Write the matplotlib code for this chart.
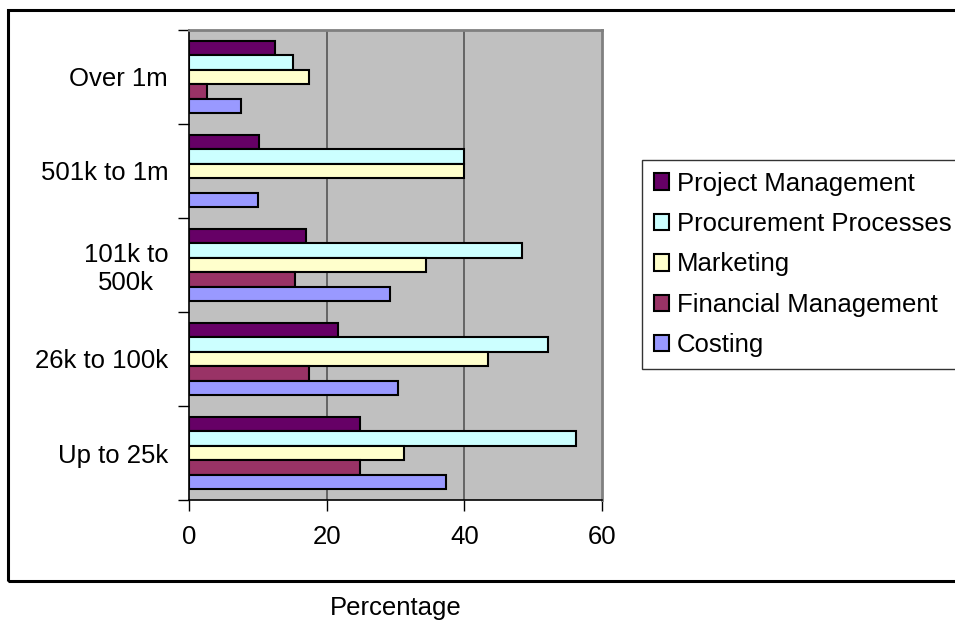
import matplotlib.pyplot as plt
from matplotlib.patches import Rectangle
import numpy as np

plt.rcParams['font.family'] = ['Liberation Sans', 'DejaVu Sans']

# categories, bottom to top
categories = ['Up to 25k', '26k to 100k', '101k to\n500k', '501k to 1m', 'Over 1m']

# series, listed top-to-bottom inside each group
series_names = ['Project Management', 'Procurement Processes', 'Marketing',
                'Financial Management', 'Costing']
project_mgmt = [24.9, 21.7, 17.0, 10.1, 12.5]
procurement = [56.2, 52.2, 48.4, 40.0, 15.1]
marketing = [31.2, 43.5, 34.4, 40.0, 17.4]
financial_mgmt = [24.9, 17.4, 15.4, 0.0, 2.6]
costing = [37.3, 30.4, 29.2, 10.0, 7.5]

colors = ['#660066', '#CCFFFF', '#FFFFCC', '#993366', '#9999FF']
x_ticks = [0, 20, 40, 60]
FS = 18.5

W, H = 955, 620
fig = plt.figure(figsize=(W / 100, H / 100), dpi=100)
ax = fig.add_axes([189 / W, 1 - 500 / H, (602 - 189) / W, (500 - 30) / H])
ax.set_facecolor('#C0C0C0')

y = np.arange(len(categories))
h = 0.153
all_series = [project_mgmt, procurement, marketing, financial_mgmt, costing]
for i, (name, vals, c) in enumerate(zip(series_names, all_series, colors)):
    offset = (2 - i) * h
    ax.barh(y + offset, vals, height=h, color=c, edgecolor='black',
            linewidth=1.5, label=name, zorder=3)

ax.set_xlim(0, 60)
ax.set_ylim(-0.5, len(categories) - 0.5)
ax.set_xticks(x_ticks)
ax.tick_params(axis='x', length=8, width=1, labelsize=FS, pad=10, direction='out')
for xv in x_ticks[1:-1]:
    ax.axvline(xv, color='#555555', linewidth=1.2, zorder=1)

# category boundaries get the ticks, labels sit between them
ax.set_yticks(np.arange(-0.5, len(categories), 1.0))
ax.set_yticklabels([])
ax.tick_params(axis='y', which='major', length=8, width=1, direction='out')
ax.set_yticks(y, minor=True)
ax.set_yticklabels(categories, minor=True, fontsize=FS, multialignment='center')
ax.tick_params(axis='y', which='minor', length=0, pad=15)

ax.spines['left'].set_color('black')
ax.spines['bottom'].set_color('black')
ax.spines['left'].set_linewidth(1.2)
ax.spines['bottom'].set_linewidth(1.2)
ax.spines['top'].set_color('#808080')
ax.spines['right'].set_color('#808080')
ax.spines['top'].set_linewidth(2)
ax.spines['right'].set_linewidth(2)

leg = ax.legend(loc='upper left', bbox_to_anchor=(642 / W, 1 - 160 / H),
                bbox_transform=fig.transFigure, fontsize=FS, frameon=True,
                fancybox=False, handlelength=0.6, handleheight=0.6,
                handletextpad=0.3, labelspacing=0.64, borderpad=0.45,
                borderaxespad=0)
leg.get_frame().set_edgecolor('black')
leg.get_frame().set_linewidth(1)

fig.text(395.5 / W, 1 - 608 / H, 'Percentage', fontsize=FS,
         ha='center', va='center')

# outer chart border
fig.patches.append(Rectangle((8 / W, 1 - 581 / H), (W + 10) / W, (581 - 10) / H,
                             transform=fig.transFigure, fill=False,
                             edgecolor='black', linewidth=2.2, clip_on=False))

fig.savefig('out.png', dpi=100)
